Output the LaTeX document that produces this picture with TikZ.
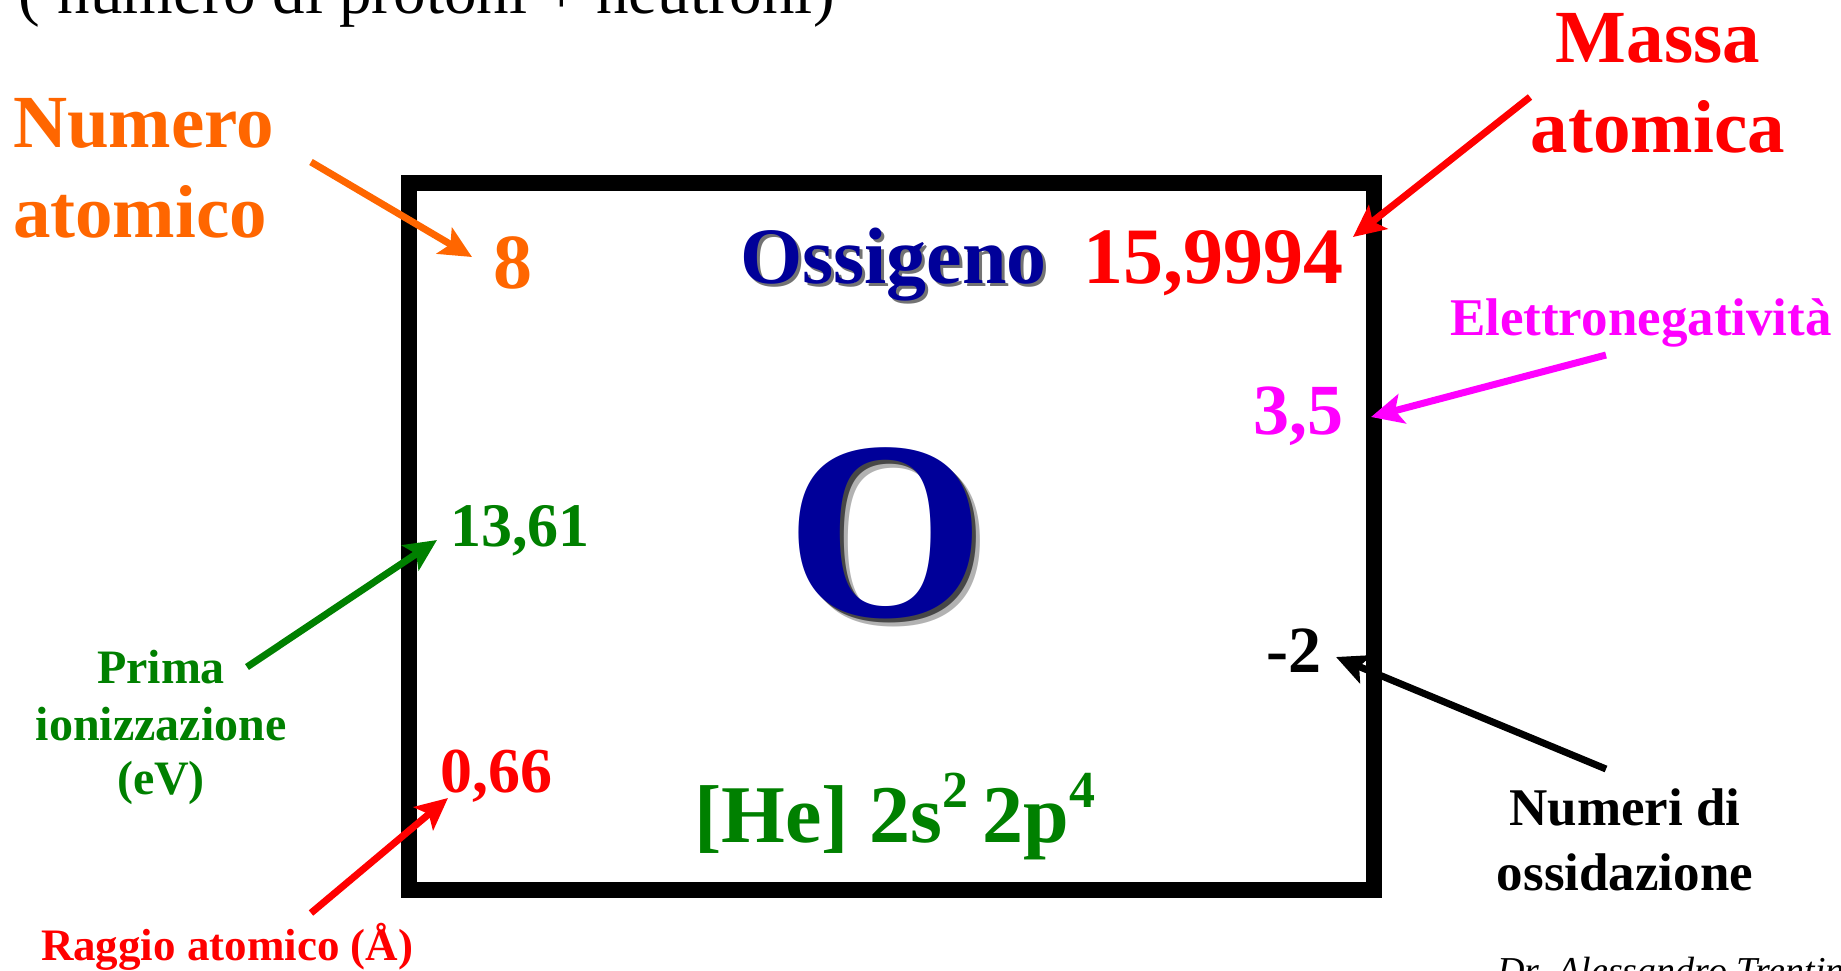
\documentclass[tikz,border=0pt]{standalone}
\usepackage{fontspec}
\setmainfont{Liberation Serif}
\usetikzlibrary{arrows.meta}
\definecolor{orng}{HTML}{FF6600}
\definecolor{rd}{HTML}{FF0000}
\definecolor{mag}{HTML}{FF00FF}
\definecolor{grn}{HTML}{008000}
\definecolor{navy}{HTML}{000099}
\newcommand{\fs}[1]{\fontsize{#1}{#1}\selectfont}
\tikzset{
  lbl/.style={inner sep=0pt, outer sep=0pt, font=\bfseries},
  arr/.style={line width=7pt, -{Stealth[length=32pt,width=30pt,inset=7pt]}},
  cell/.style={line width=16pt, draw=black},
}
\begin{document}
\begin{tikzpicture}[x=1pt,y=-1pt]
\useasboundingbox (0,0) rectangle (1841,970);
\clip (0,0) rectangle (1841,970);
% element cell
\draw[cell] (408.5,183) rectangle (1374,889.5);
% top cut text
\node[inner sep=0pt, anchor=base west] (top) at (18,13) {\fs{65}(\hspace{18pt}numero di protoni + neutroni)};
% credit
\node[inner sep=0pt, anchor=base west] (credit) at (1497,983) {\fs{38}\itshape Dr. Alessandro Trentini};
% labels outside
\node[lbl, text=orng, anchor=base west] (num1) at (13,147) {\fs{75}Numero};
\node[lbl, text=orng, anchor=base west] (num2) at (13,237) {\fs{75}atomico};
\node[lbl, text=rd, anchor=base] (mas1) at (1658,62) {\fs{75}Massa};
\node[lbl, text=rd, anchor=base] (mas2) at (1658,152) {\fs{75}atomica};
\node[lbl, text=mag, anchor=base west] (eln) at (1450,335) {\fs{53}Elettronegatività};
\node[lbl, text=grn, anchor=base] (pr1) at (161,683) {\fs{48}Prima};
\node[lbl, text=grn, anchor=base] (pr2) at (161,740) {\fs{48}ionizzazione};
\node[lbl, text=grn, anchor=base] (pr3) at (161,794) {\fs{48}(eV)};
\node[lbl, text=black, anchor=base] (ox1) at (1625,825) {\fs{53}Numeri di};
\node[lbl, text=black, anchor=base] (ox2) at (1625,890) {\fs{53}ossidazione};
\node[lbl, text=rd, anchor=base west] (rag) at (41,960) {\fs{45}Raggio atomico (Å)};
% inside the cell
\node[lbl, text=orng, anchor=base west] (z) at (493,288) {\fs{78}8};
\node[lbl, text=black, opacity=0.55, anchor=base west] (nameS) at (743,286) {\fs{80}Ossigeno};
\node[lbl, text=navy, anchor=base west] (name) at (740,283) {\fs{80}Ossigeno};
\node[lbl, text=rd, anchor=base east] (mass) at (1343,283) {\fs{80}15,9994};
\node[lbl, text=mag, anchor=base east] (en) at (1343,434) {\fs{72}3,5};
\node[lbl, text=grn, anchor=base west] (ion) at (450,546) {\fs{62}13,61};
\node[lbl, text=black, opacity=0.3, anchor=base] (symS2) at (894,624) {\fs{255}O};
\node[lbl, text=black, opacity=0.6, anchor=base] (symS) at (890,620) {\fs{255}O};
\node[lbl, text=navy, anchor=base] (sym) at (886,616) {\fs{255}O};
\node[lbl, text=black, anchor=base east] (oxn) at (1321,672) {\fs{66}-2};
\node[lbl, text=rd, anchor=base west] (rad) at (440,792) {\fs{64}0,66};
\node[lbl, text=grn, anchor=base west] (conf) at (694,842) {\fs{82}[He] 2s\raisebox{0.42em}{\fs{52}2}\hspace{0.18em}2p\raisebox{0.42em}{\fs{52}4}};
% arrows
\coordinate (a1s) at (311,162); \coordinate (a1e) at (472,257);
\coordinate (a2s) at (1530,97); \coordinate (a2e) at (1353,237);
\coordinate (a3s) at (1606,355); \coordinate (a3e) at (1371,417);
\coordinate (a4s) at (247,667); \coordinate (a4e) at (437,540);
\coordinate (a5s) at (1606,769); \coordinate (a5e) at (1336,657);
\coordinate (a6s) at (311,913); \coordinate (a6e) at (448,798);
\draw[arr, orng] (a1s) -- (a1e);
\draw[arr, rd] (a2s) -- (a2e);
\draw[arr, mag] (a3s) -- (a3e);
\draw[arr, grn] (a4s) -- (a4e);
\draw[arr, black] (a5s) -- (a5e);
\draw[arr, rd] (a6s) -- (a6e);
\end{tikzpicture}
\end{document}
